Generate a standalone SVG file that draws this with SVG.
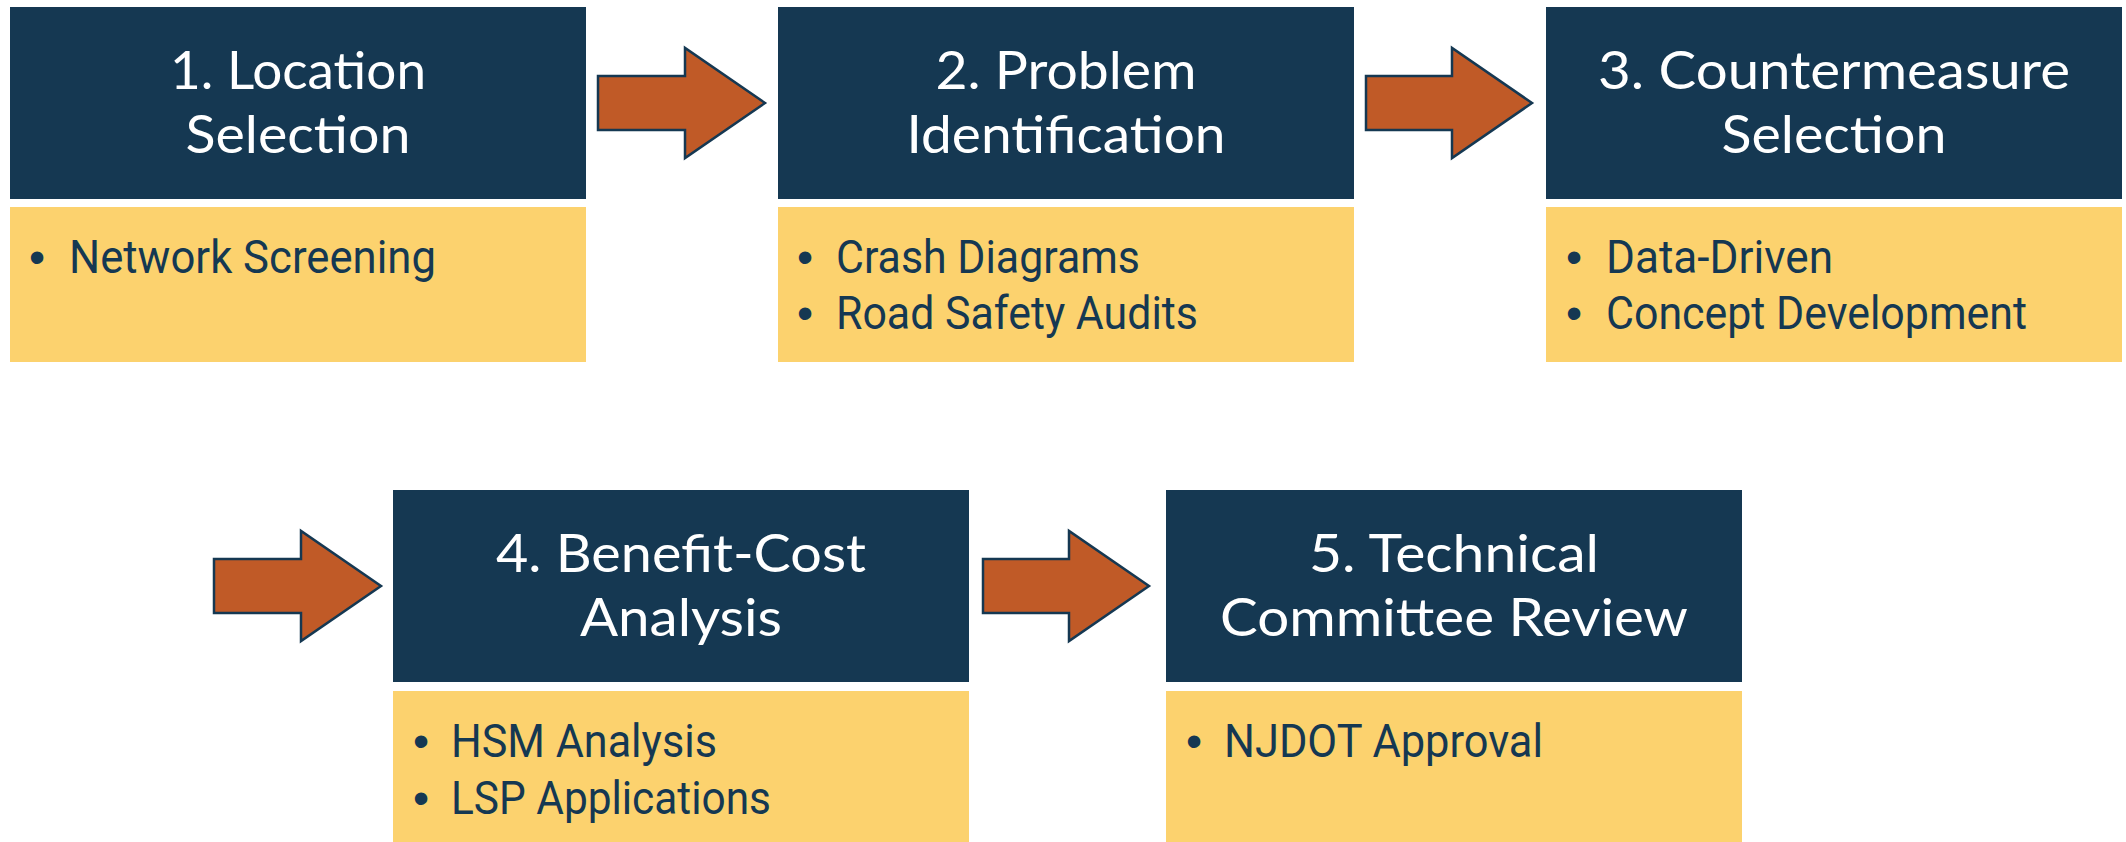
<svg xmlns="http://www.w3.org/2000/svg" width="2126" height="842" viewBox="0 0 2126 842">
<style>
.hd{fill:#153852}
.bd{fill:#FCD26E}
.arr{fill:#C05A27;stroke:#153852;stroke-width:2.5;stroke-linejoin:miter}
.t{font-family:Lato,"Open Sans","Liberation Sans",sans-serif;font-size:52px;fill:#FFFFFF;text-anchor:middle}
.b{font-family:Roboto,"Liberation Sans",sans-serif;font-size:46px;fill:#153852}
.dot{font-family:"Liberation Sans",sans-serif;font-size:46px;fill:#153852;text-anchor:middle}
</style>
<rect width="2126" height="842" fill="#FFFFFF"/>
<g id="connectors">
<polygon class="arr" points="598,76 685,76 685,48 765,103 685,158 685,130 598,130"/>
<polygon class="arr" points="1366,76 1452,76 1452,48 1532,103 1452,158 1452,130 1366,130"/>
<polygon class="arr" points="214,559 301,559 301,531 381,586 301,641 301,613 214,613"/>
<polygon class="arr" points="983,559 1069,559 1069,531 1149,586 1069,641 1069,613 983,613"/>
</g>
<g id="node1">
<rect class="hd" x="10" y="7" width="576" height="192"/>
<text class="t" x="298" y="89" textLength="256" lengthAdjust="spacingAndGlyphs">1. Location</text>
<text class="t" x="298" y="153" textLength="225" lengthAdjust="spacingAndGlyphs">Selection</text>
<rect class="bd" x="10" y="207" width="576" height="155"/>
<text class="dot" x="37" y="273">•</text>
<text class="b" x="69" y="273" textLength="367" lengthAdjust="spacingAndGlyphs">Network Screening</text>
</g>
<g id="node2">
<rect class="hd" x="778" y="7" width="576" height="192"/>
<text class="t" x="1066" y="89" textLength="261" lengthAdjust="spacingAndGlyphs">2. Problem</text>
<text class="t" x="1066" y="153" textLength="319" lengthAdjust="spacingAndGlyphs">Identification</text>
<rect class="bd" x="778" y="207" width="576" height="155"/>
<text class="dot" x="805" y="273">•</text>
<text class="b" x="836" y="273" textLength="304" lengthAdjust="spacingAndGlyphs">Crash Diagrams</text>
<text class="dot" x="805" y="329">•</text>
<text class="b" x="836" y="329" textLength="362" lengthAdjust="spacingAndGlyphs">Road Safety Audits</text>
</g>
<g id="node3">
<rect class="hd" x="1546" y="7" width="576" height="192"/>
<text class="t" x="1834" y="89" textLength="472" lengthAdjust="spacingAndGlyphs">3. Countermeasure</text>
<text class="t" x="1834" y="153" textLength="225" lengthAdjust="spacingAndGlyphs">Selection</text>
<rect class="bd" x="1546" y="207" width="576" height="155"/>
<text class="dot" x="1574" y="273">•</text>
<text class="b" x="1606" y="273" textLength="227" lengthAdjust="spacingAndGlyphs">Data-Driven</text>
<text class="dot" x="1574" y="329">•</text>
<text class="b" x="1606" y="329" textLength="421" lengthAdjust="spacingAndGlyphs">Concept Development</text>
</g>
<g id="node4">
<rect class="hd" x="393" y="490" width="576" height="192"/>
<text class="t" x="681" y="572" textLength="370" lengthAdjust="spacingAndGlyphs">4. Benefit-Cost</text>
<text class="t" x="681" y="636" textLength="202" lengthAdjust="spacingAndGlyphs">Analysis</text>
<rect class="bd" x="393" y="691" width="576" height="151"/>
<text class="dot" x="421" y="757">•</text>
<text class="b" x="451" y="757" textLength="266" lengthAdjust="spacingAndGlyphs">HSM Analysis</text>
<text class="dot" x="421" y="814">•</text>
<text class="b" x="451" y="814" textLength="320" lengthAdjust="spacingAndGlyphs">LSP Applications</text>
</g>
<g id="node5">
<rect class="hd" x="1166" y="490" width="576" height="192"/>
<text class="t" x="1454" y="572" textLength="290" lengthAdjust="spacingAndGlyphs">5. Technical</text>
<text class="t" x="1454" y="636" textLength="468" lengthAdjust="spacingAndGlyphs">Committee Review</text>
<rect class="bd" x="1166" y="691" width="576" height="151"/>
<text class="dot" x="1194" y="757">•</text>
<text class="b" x="1224" y="757" textLength="319" lengthAdjust="spacingAndGlyphs">NJDOT Approval</text>
</g>
</svg>
